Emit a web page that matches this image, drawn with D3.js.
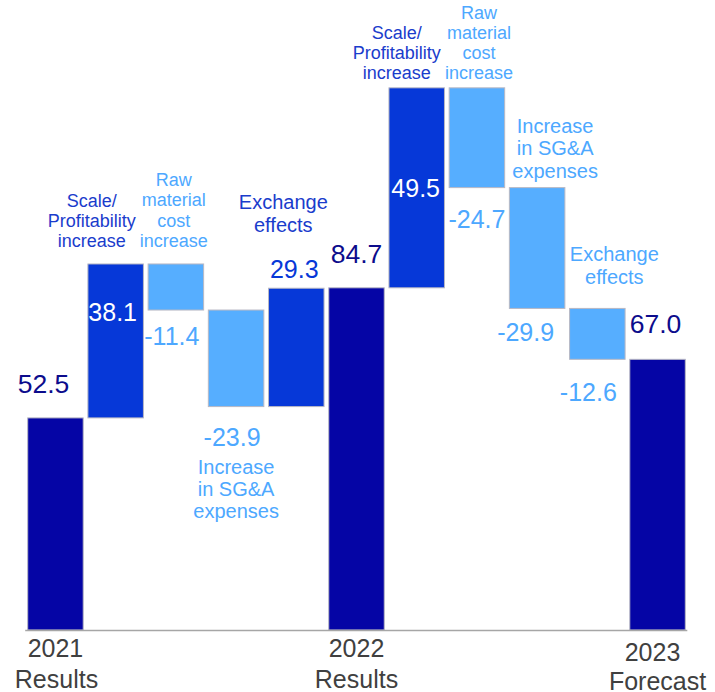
<!DOCTYPE html>
<html>
<head>
<meta charset="utf-8">
<script src="https://cdn.jsdelivr.net/npm/d3@7"></script>
<style>
  html, body { margin: 0; padding: 0; background: #fff; }
  svg { display: block; font-family: "Liberation Sans", Arial, sans-serif; }
</style>
</head>
<body>
<svg id="chart" width="715" height="692"></svg>
<script>
// ---------- data ----------
const barIds = ["r2021", "scale1", "raw1", "sga1", "fx1", "r2022", "scale2", "raw2", "sga2", "fx2", "f2023"];
const values = [52.5, 38.1, -11.4, -23.9, 29.3, 84.7, 49.5, -24.7, -29.9, -12.6, 67.0];
const barTypes = ["total", "increase", "decrease", "decrease", "increase", "total", "increase", "decrease", "decrease", "decrease", "total"];
const valueLabels = ["52.5", "38.1", "-11.4", "-23.9", "29.3", "84.7", "49.5", "-24.7", "-29.9", "-12.6", "67.0"];
const axisLabels = [["2021", "Results"], null, null, null, null, ["2022", "Results"], null, null, null, null, ["2023", "Forecast"]];
const descLabels = [
  null,
  ["Scale/", "Profitability", "increase"],
  ["Raw", "material", "cost", "increase"],
  ["Increase", "in SG&A", "expenses"],
  ["Exchange", "effects"],
  null,
  ["Scale/", "Profitability", "increase"],
  ["Raw", "material", "cost", "increase"],
  ["Increase", "in SG&A", "expenses"],
  ["Exchange", "effects"],
  null
];

// ---------- layout / style (not data) ----------
const colors = { total: "#0505a5", increase: "#0638d8", decrease: "#56aeff" };
const valueColors = { total: "#0c0c8c", increase: "#0638d8", decrease: "#4da8ff" };
const descColors = ["", "#1a3ccc", "#4da8ff", "#4da8ff", "#1a3ccc", "", "#1a3ccc", "#4da8ff", "#4da8ff", "#4da8ff", ""];
// value label placement: [dx from bar centre, anchor ('top'|'bottom'), dy, fill override]
const valuePlace = [
  [-12, "top", -25, null],
  [-3, "top", 57, "#ffffff"],
  [-4, "bottom", 35, null],
  [-4, "bottom", 39, null],
  [-2, "top", -10, null],
  [0, "top", -25, null],
  [-1, "top", 109, "#ffffff"],
  [0, "bottom", 40, null],
  [-11.5, "bottom", 33, null],
  [-9, "bottom", 42, null],
  [-2, "top", -26, null]
];
// description placement: [dx, anchor, dy of LAST line baseline (or first if 'bottom'), font size, line height]
const descPlace = [
  null,
  [-24, "top", -17, 18, 20],
  [-2, "top", -17, 18, 20.3],
  [0, "bottom", 67, 20, 22],
  [-13, "top", -56, 20, 23],
  null,
  [-20, "top", -9, 18, 20],
  [2, "top", -9, 18, 20],
  [18, "top", -10, 20, 22.5],
  [17, "top", -24, 20, 23],
  null
];

// ---------- computation ----------
let running = 0;
const bars = values.map((v, i) => {
  let y0, y1;
  if (barTypes[i] === "total") { y0 = 0; y1 = v; running = v; }
  else { y0 = running; y1 = running + v; running = y1; }
  return { id: barIds[i], i, v, type: barTypes[i], lo: Math.min(y0, y1), hi: Math.max(y0, y1) };
});

const svg = d3.select("#chart");
const x = d3.scaleBand().domain(barIds).range([27.7, 685.3]).paddingInner(0.078).paddingOuter(0);
const y = d3.scaleLinear().domain([0, 150]).range([630, 630 - 150 * 4.04]);

// bars
svg.append("g").selectAll("rect").data(bars).join("rect")
  .attr("x", d => x(d.id))
  .attr("width", x.bandwidth())
  .attr("y", d => y(d.hi))
  .attr("height", d => y(d.lo) - y(d.hi))
  .attr("fill", d => colors[d.type])
  .attr("stroke", "#b8b8c4")
  .attr("stroke-width", 1);

// axis line
const xr = x.range();
svg.append("line")
  .attr("x1", xr[0] - 2.5).attr("x2", xr[1] + 2)
  .attr("y1", y(0) + 0.5).attr("y2", y(0) + 0.5)
  .attr("stroke", "#a6a6a6").attr("stroke-width", 1.5);

// axis category labels
bars.forEach(d => {
  const lab = axisLabels[d.i];
  if (!lab) return;
  const cx = x(d.id) + x.bandwidth() / 2;
  const extra = d.i === 10 ? 4 : 0;
  const t = svg.append("text")
    .attr("text-anchor", "middle")
    .attr("fill", "#404040")
    .attr("font-size", 25);
  t.append("tspan").attr("x", cx - (d.i === 10 ? 5 : 0)).attr("y", y(0) + 27 + extra).text(lab[0]);
  t.append("tspan").attr("x", cx + (d.i === 0 ? 1 : 0)).attr("y", y(0) + 58 + (d.i === 10 ? 2 : 0)).text(lab[1]);
});

// value labels
bars.forEach(d => {
  const p = valuePlace[d.i];
  const cx = x(d.id) + x.bandwidth() / 2 + p[0];
  const base = p[1] === "top" ? y(d.hi) : y(d.lo);
  svg.append("text")
    .attr("x", cx).attr("y", base + p[2])
    .attr("text-anchor", "middle")
    .attr("font-size", d.type === "total" ? 26.5 : 25)
    .attr("fill", p[3] || valueColors[d.type])
    .text(valueLabels[d.i]);
});

// description labels
bars.forEach(d => {
  const lines = descLabels[d.i];
  if (!lines) return;
  const p = descPlace[d.i];
  const cx = x(d.id) + x.bandwidth() / 2 + p[0];
  const n = lines.length;
  let firstBase;
  if (p[1] === "top") firstBase = y(d.hi) + p[2] - (n - 1) * p[4];
  else firstBase = y(d.lo) + p[2];
  const t = svg.append("text")
    .attr("text-anchor", "middle")
    .attr("font-size", p[3])
    .attr("fill", descColors[d.i]);
  lines.forEach((ln, k) => {
    t.append("tspan").attr("x", cx).attr("y", firstBase + k * p[4]).text(ln);
  });
});
</script>
</body>
</html>
